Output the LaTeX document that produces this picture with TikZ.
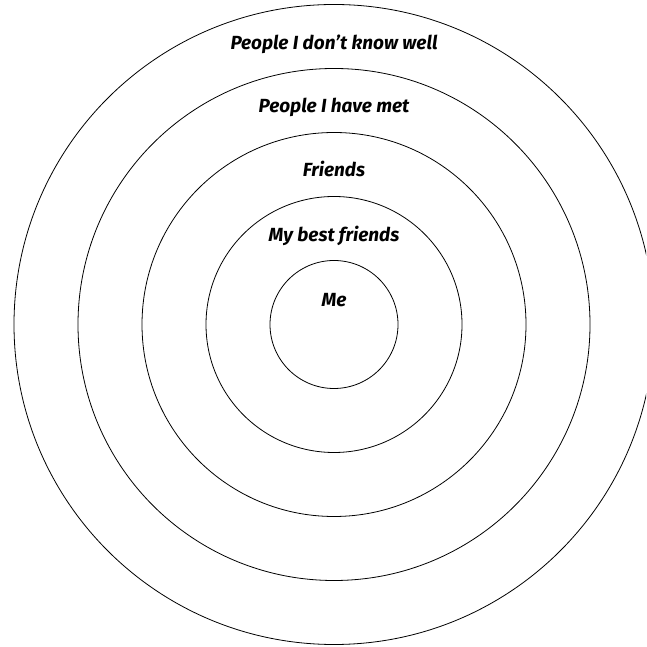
\documentclass[tikz,border=0pt]{standalone}
\usepackage{fontspec}
\setmainfont{Fira Sans}
\begin{document}
\begin{tikzpicture}[x=1pt,y=1pt,
  ring/.style={draw=black,line width=0.8pt,circle,inner sep=0pt,minimum size=#1},
  lbl/.style={anchor=base,inner sep=0pt,font=\fontsize{19}{22}\selectfont\bfseries\itshape}]
\useasboundingbox (0,0) rectangle (646,647);
\clip (0,0) rectangle (646,647);
\coordinate (c) at (334,322.5);
\node[ring=640pt] (r5) at (c) {};
\node[ring=512pt] (r4) at (c) {};
\node[ring=384pt] (r3) at (c) {};
\node[ring=256pt] (r2) at (c) {};
\node[ring=128pt] (r1) at (c) {};
\node[lbl] (t5) at (334,597) {People I don’t know well};
\node[lbl] (t4) at (334,534) {People I have met};
\node[lbl] (t3) at (334,470) {Friends};
\node[lbl] (t2) at (334,405) {My best friends};
\node[lbl] (t1) at (334,340) {Me};
\end{tikzpicture}
\end{document}
